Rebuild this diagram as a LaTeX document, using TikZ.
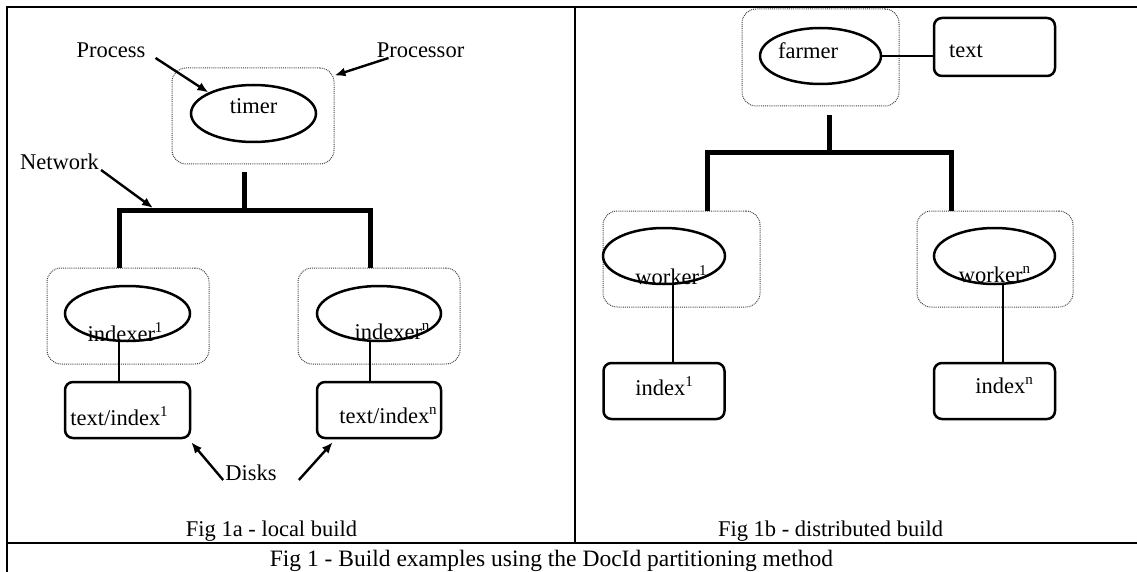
\documentclass[tikz,border=0pt]{standalone}
\usepackage{fontspec}
\setmainfont{Liberation Serif}
\usepackage{tikz}
\usetikzlibrary{arrows.meta,shapes.geometric}

\newcommand{\figfont}{\fontsize{22.5pt}{27pt}\selectfont}
\newcommand{\sups}[1]{\raisebox{0.4em}{\fontsize{15pt}{17pt}\selectfont #1}}

\tikzset{
	cpu/.style={draw=black!75, dash pattern=on 0.9pt off 1pt, line width=1pt, rounded corners=14pt, inner sep=0pt},
	proc/.style={draw, ellipse, line width=2.5pt, inner sep=0pt},
	disk/.style={draw, rounded corners=8pt, line width=2.5pt, inner sep=0pt},
	bus/.style={line width=5pt, line join=miter},
	wire/.style={line width=2pt},
	arr/.style={line width=2.4pt, -{Latex[length=11pt,width=9pt]}},
	frame/.style={line width=2.2pt},
}

\begin{document}
\begin{tikzpicture}[x=1pt, y=-1pt, every node/.style={font=\figfont}]
	\useasboundingbox (0,0) rectangle (1137,572);

	\draw[frame] (7,572) -- (7,7) -- (1137,7);
	\draw[frame] (575,7) -- (575,543);
	\draw[frame] (7,543) -- (1137,543);

	\node[cpu, minimum width=162pt, minimum height=96pt] (cpuT) at (253,116) {};
	\node[proc, minimum width=125pt, minimum height=57pt, label={[yshift=7.5pt]center:timer}] (timer) at (253.5,113.5) {};

	\node[inner sep=0pt, anchor=base] (Process) at (111,58) {Process};
	\node[inner sep=0pt, anchor=base] (Processor) at (420.5,58) {Processor};
	\node[inner sep=0pt, anchor=base] (Network) at (59.5,170) {Network};

	\draw[arr] ([xshift=10pt]Process.base east) -- (timer.155);
	\draw[arr] ([xshift=-32pt]Processor.base) -- ([yshift=-8pt]cpuT.north east);

	\coordinate (hubA) at (244,210);
	\coordinate (dropA) at (119,210);
	\coordinate (dropB) at (370,210);
	\coordinate (netA) at (153,208);

	\node[cpu, minimum width=162pt, minimum height=96pt] (cpuI1) at (128,316) {};
	\node[cpu, minimum width=162pt, minimum height=96pt] (cpuIn) at (379,316) {};

	\draw[bus] ([yshift=38pt]hubA) -- (hubA);
	\draw[bus] (dropA |- cpuI1.north) -- (dropA) -- (dropB) -- (dropB |- cpuIn.north);
	\draw[arr] ([xshift=2pt]Network.base east) -- (netA);

	\node[proc, minimum width=125pt, minimum height=55pt, label={[xshift=-2.5pt, yshift=-18.5pt]center:indexer\sups{1}}] (idx1) at (127.5,313.5) {};
	\node[proc, minimum width=124pt, minimum height=55pt, label={[xshift=13pt, yshift=-18.5pt]center:indexer\sups{n}}] (idxn) at (379,313.5) {};

	\node[disk, below of=idx1, node distance=96.5pt, minimum width=125pt, minimum height=56pt, label={[xshift=-8.5pt, yshift=-6pt]center:text/index\sups{1}}] (disk1) {};
	\node[disk, below of=idxn, node distance=96.5pt, minimum width=124pt, minimum height=56pt, label={[xshift=9pt, yshift=-6pt]center:text/index\sups{n}}] (diskn) {};

	\draw[wire] ([xshift=-8.5pt]idx1.south) -- ([xshift=-8.5pt]disk1.north);
	\draw[wire] ([xshift=-9pt]idxn.south) -- ([xshift=-9pt]diskn.north);

	\node[inner sep=0pt, anchor=base] (Disks) at (251,480) {Disks};
	\draw[arr] ([xshift=-2pt]Disks.base west) -- ([yshift=-3pt]disk1.south east);
	\draw[arr] ([xshift=22pt]Disks.base east) -- ([xshift=17pt, yshift=-3pt]diskn.south west);

	\node[inner sep=0pt, anchor=base] (capA) at (271.5,536) {Fig 1a - local build};

	\node[cpu, minimum width=157pt, minimum height=97pt] (cpuF) at (820.5,57.5) {};
	\node[proc, minimum width=121pt, minimum height=56pt, label={[xshift=-12.5pt, yshift=5pt]center:farmer}] (farmer) at (820.5,56) {};
	\node[disk, right of=farmer, node distance=174pt, yshift=9pt, minimum width=121pt, minimum height=58pt, label={[xshift=-28.5pt, yshift=-4pt]center:text}] (tbox) {};
	\draw[wire] (farmer.east) -- (farmer.east -| tbox.west);

	\coordinate (hubB) at (829,153);
	\coordinate (dropC) at (707,153);
	\coordinate (dropD) at (951,153);

	\node[cpu, minimum width=157pt, minimum height=96pt] (cpuW1) at (681.5,259) {};
	\node[cpu, minimum width=156pt, minimum height=96pt] (cpuWn) at (995,259) {};

	\draw[bus] ([yshift=38pt]hubB) -- (hubB);
	\draw[bus] (dropC |- cpuW1.north) -- (dropC) -- (dropD) -- (dropD |- cpuWn.north);

	\node[proc, minimum width=122pt, minimum height=56pt, label={[xshift=7pt, yshift=-19pt]center:worker\sups{1}}] (wk1) at (664,256) {};
	\node[proc, minimum width=121pt, minimum height=56pt, label={[yshift=-19pt]center:worker\sups{n}}] (wkn) at (994.5,256) {};

	\node[disk, below of=wk1, node distance=135pt, minimum width=121pt, minimum height=56pt, label={[yshift=5pt]center:index\sups{1}}] (ix1) {};
	\node[disk, below of=wkn, node distance=135pt, minimum width=121pt, minimum height=56pt, label={[xshift=9.5pt, yshift=5pt]center:index\sups{n}}] (ixn) {};

	\draw[wire] ([xshift=9pt]wk1.south) -- ([xshift=9pt]ix1.north);
	\draw[wire] ([xshift=8.5pt]wkn.south) -- ([xshift=8.5pt]ixn.north);

	\node[inner sep=0pt, anchor=base] (capB) at (830.5,536) {Fig 1b - distributed build};

	\node[inner sep=0pt, anchor=base, font=\fontsize{23.5pt}{28pt}\selectfont] (capMain) at (551.5,566) {Fig 1 - Build examples using the DocId partitioning method};
\end{tikzpicture}
\end{document}
